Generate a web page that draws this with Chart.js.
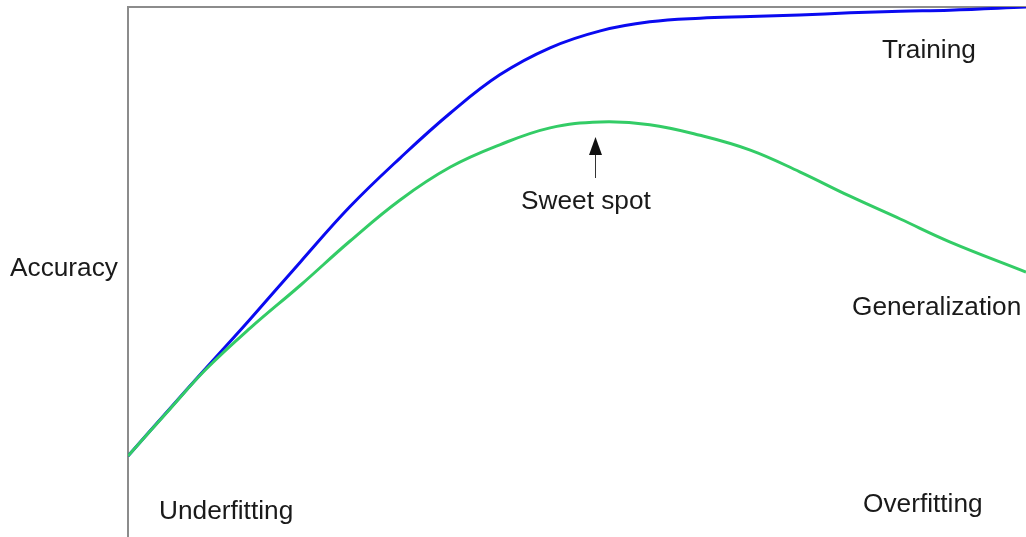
<!DOCTYPE html>
<html>
<head>
<meta charset="utf-8">
<style>
  html, body { margin: 0; padding: 0; background: #fff; }
  #wrap { width: 1026px; height: 537px; position: relative; }
</style>
<script src="https://cdn.jsdelivr.net/npm/chart.js@4.4.1/dist/chart.umd.min.js"></script>
</head>
<body>
<div id="wrap"><canvas id="fitting-chart"></canvas></div>
<script>
// model complexity (x) and accuracy (y)
const complexity = [0, 4.7, 8.6, 13.6, 19.2, 24.7, 30.3, 35.9, 41.4, 47.0, 52.6, 58.1, 63.7, 69.3, 74.8, 80.4, 86.0, 91.5, 100];
const training = [15.3, 24.3, 31.7, 41.1, 51.9, 62.3, 71.5, 80.0, 87.2, 92.3, 95.5, 97.2, 97.9, 98.2, 98.5, 98.9, 99.2, 99.4, 100];
const generalization = [15.3, 24.2, 31.5, 39.4, 47.5, 55.8, 63.6, 69.8, 74.0, 77.2, 78.3, 77.8, 75.8, 73.0, 68.9, 64.3, 60.0, 55.7, 50.0];

const FONT = '25px "Liberation Sans", Arial, sans-serif';

function pts(ys) {
    return complexity.map((x, i) => ({ x: x, y: ys[i] }));
}

// text labels + sweet spot arrow
const labelsPlugin = {
    id: 'labels',
    afterDatasetsDraw(chart) {
        const c = chart.ctx;
        const xs = chart.scales.x, ys = chart.scales.y;
        c.save();
        c.fillStyle = '#1a1a1a';
        c.font = FONT;
        c.textBaseline = 'alphabetic';
        const txt = (s, x, y) => {
            c.save();
            c.translate(x, y);
            c.scale(1.05, 1);
            c.fillText(s, 0, 0);
            c.restore();
        };
        txt('Accuracy', 10, 276);
        txt('Training', 882, 58);
        txt('Sweet spot', 521, 209);
        txt('Generalization', 852, 315);
        txt('Underfitting', 159, 519);
        txt('Overfitting', 863, 512);

        // arrow pointing at the top of the generalization curve
        let peak = 0;
        generalization.forEach((v, i) => { if (v > generalization[peak]) peak = i; });
        const ax = Math.round(xs.getPixelForValue(complexity[peak])) - 4.5;
        const tip = ys.getPixelForValue(generalization[peak]) + 15;
        c.strokeStyle = '#333';
        c.lineWidth = 1;
        c.beginPath();
        c.moveTo(ax, tip + 16);
        c.lineTo(ax, tip + 41);
        c.stroke();
        c.fillStyle = '#111';
        c.beginPath();
        c.moveTo(ax, tip);
        c.lineTo(ax - 6.5, tip + 18);
        c.lineTo(ax + 6.5, tip + 18);
        c.closePath();
        c.fill();
        c.restore();
    }
};

const chart = new Chart(document.getElementById('fitting-chart'), {
    type: 'line',
    data: {
        datasets: [
            {
                label: 'Generalization',
                data: pts(generalization),
                borderColor: '#33cc66',
                borderWidth: 3,
                pointRadius: 0,
                tension: 0.4,
                fill: false,
                order: 0
            },
            {
                label: 'Training',
                data: pts(training),
                borderColor: '#0a0af0',
                borderWidth: 3,
                pointRadius: 0,
                tension: 0.4,
                fill: false,
                order: 1
            }
        ]
    },
    options: {
        responsive: true,
        maintainAspectRatio: false,
        animation: false,
        layout: { padding: { left: 128, top: 7, right: 0, bottom: 0 } },
        plugins: { legend: { display: false }, tooltip: { enabled: false } },
        scales: {
            x: {
                type: 'linear',
                position: 'top',
                min: 0,
                max: 100,
                ticks: { display: false },
                grid: { display: false, drawTicks: false },
                border: { display: true, color: '#8c8c8c', width: 2 }
            },
            y: {
                type: 'linear',
                min: 0,
                max: 100,
                ticks: { display: false },
                grid: { display: false, drawTicks: false },
                border: { display: true, color: '#8c8c8c', width: 2 }
            }
        }
    },
    plugins: [labelsPlugin]
});
</script>
</body>
</html>
